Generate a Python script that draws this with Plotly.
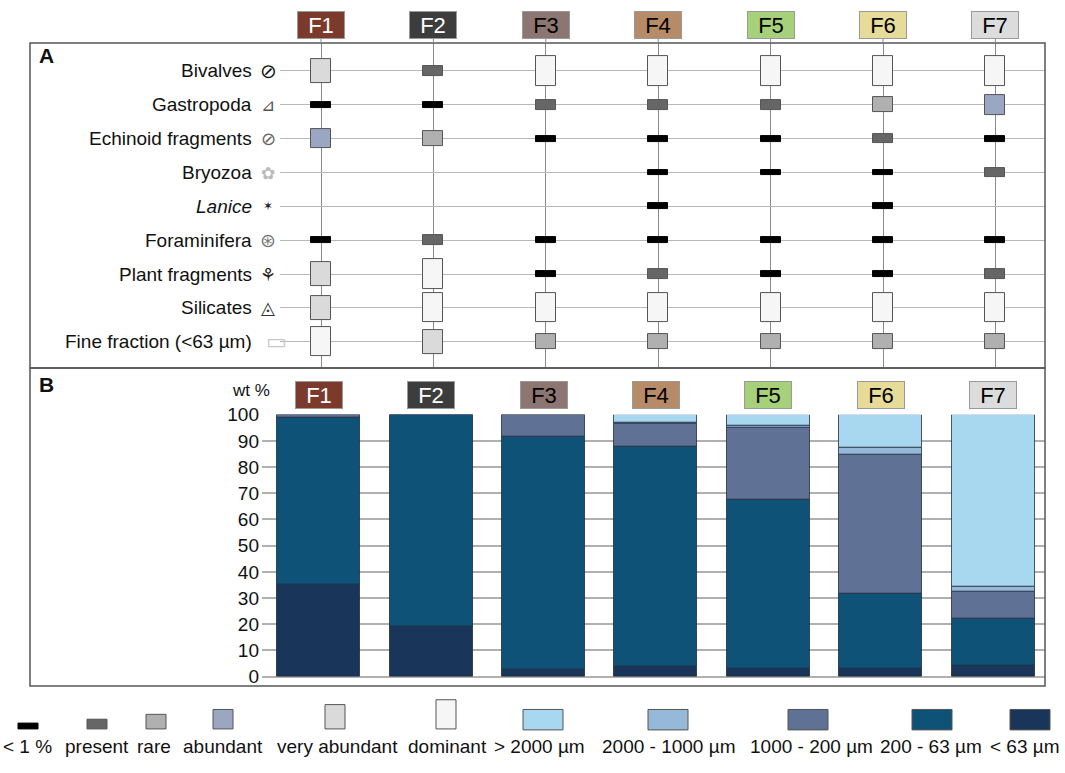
import numpy as np
import plotly.graph_objects as go

W, H = 1065, 773
FONT = "Liberation Sans, Arial, sans-serif"

# samples / facies
samples = ["F1", "F2", "F3", "F4", "F5", "F6", "F7"]
sample_colors = ["#7b3a2c", "#3d3d3d", "#8d7671", "#b78b67", "#a6d079", "#e7db99", "#dcdcdc"]
sample_text = ["white", "white", "black", "black", "black", "black", "black"]

# panel A: components and abundance class (0 = absent, 1..6 = classes below)
components = ["Bivalves", "Gastropoda", "Echinoid fragments", "Bryozoa", "<i>Lanice</i>",
              "Foraminifera", "Plant fragments", "Silicates", "Fine fraction (<63 µm)"]
component_icons = ["⊘", "⊿", "⊘", "✿", "✶", "⊛", "⚘", "◬", "▭"]
classes = ["< 1 %", "present", "rare", "abundant", "very abundant", "dominant"]
bivalves = [5, 2, 6, 6, 6, 6, 6]
gastropoda = [1, 1, 2, 2, 2, 3, 4]
echinoids = [4, 3, 1, 1, 1, 2, 1]
bryozoa = [0, 0, 0, 1, 1, 1, 2]
lanice = [0, 0, 0, 1, 0, 1, 0]
foraminifera = [1, 2, 1, 1, 1, 1, 1]
plants = [5, 6, 1, 2, 1, 1, 2]
silicates = [5, 6, 6, 6, 6, 6, 6]
fines = [6, 5, 3, 3, 3, 3, 3]
abundance = [bivalves, gastropoda, echinoids, bryozoa, lanice, foraminifera, plants, silicates, fines]

# panel B: grain size fractions (wt %), bottom to top
fractions = ["< 63 µm", "200 - 63 µm", "1000 - 200 µm", "2000 - 1000 µm", "> 2000 µm"]
lt63 = [35.0, 19.0, 2.7, 3.8, 3.0, 3.1, 4.2]
f200_63 = [64.0, 81.0, 88.8, 83.8, 64.6, 28.5, 17.8]
f1000_200 = [1.0, 0.0, 8.5, 9.1, 27.4, 53.1, 10.4]
f2000_1000 = [0.0, 0.0, 0.0, 0.3, 0.7, 2.7, 2.0]
gt2000 = [0.0, 0.0, 0.0, 3.0, 4.3, 12.6, 65.6]
wt = [lt63, f200_63, f1000_200, f2000_1000, gt2000]
wt_ticks = list(range(0, 101, 10))

# styles
class_colors = ["#000000", "#666666", "#b0b0b0", "#9ba6c3", "#dadada", "#f6f6f6"]
class_heights = [6, 10, 15, 20, 25, 30]  # px
fraction_colors = ["#19355a", "#0e5278", "#5f7295", "#97b9d9", "#a8d7f0"]
icon_colors = ["#111", "#555", "#666", "#bbb", "#222", "#777", "#222", "#333", "#c8c8c8"]
icon_sizes = [20, 17, 18, 17, 12, 19, 18, 18, 22]


def px(x):
    return x / W


def py(y):
    return 1 - y / H


# pixel geometry of the two panels
colA0, colB0, colstep = 321.0, 318.7, 112.4
rowA0, rowstep = 62.7, 34.8
A_x, A_y = (280, 1045), (34, 368)
B_x, B_y = (262, 1045), (416, 685.3)

xrA = [1 + (A_x[0] - colA0) / colstep, 1 + (A_x[1] - colA0) / colstep]
yrA = [1 + (A_y[1] - rowA0) / rowstep, 1 + (A_y[0] - rowA0) / rowstep]
xrB = [1 + (B_x[0] - colB0) / colstep, 1 + (B_x[1] - colB0) / colstep]

cols = np.arange(1, len(samples) + 1)
rows = np.arange(1, len(components) + 1)

fig = go.Figure()

# panel A symbols
ab = np.array(abundance)
for k in range(len(classes)):
    rr, cc = np.where(ab == k + 1)
    h = class_heights[k] / rowstep
    fig.add_trace(go.Bar(
        x=cols[cc], y=[h] * len(rr), base=rows[rr] - h / 2,
        width=20 / colstep, xaxis="x", yaxis="y",
        marker=dict(color=class_colors[k],
                    line=dict(color="#555555" if k > 0 else "#000000", width=1)),
        name=classes[k], showlegend=False,
    ))

# panel B stacked bars
bases = np.vstack([np.zeros(len(samples)), np.cumsum(wt, axis=0)[:-1]])
for i, name in enumerate(fractions):
    fig.add_trace(go.Bar(
        x=cols, y=wt[i], base=bases[i], width=83 / colstep,
        xaxis="x2", yaxis="y2",
        marker=dict(color=fraction_colors[i], line=dict(color="rgba(25,35,55,0.75)", width=1)),
        name=name, showlegend=False,
    ))

ann = []
shapes = []

# sample header boxes
for j, s in enumerate(samples):
    for xr, yc in (("x", 15.5), ("x2", 395.5)):
        ann.append(dict(x=j + 1, y=py(yc), xref=xr, yref="paper", text=s, showarrow=False,
                        font=dict(family=FONT, size=22, color=sample_text[j]),
                        bgcolor=sample_colors[j], bordercolor="#9a9a9a", borderwidth=1,
                        borderpad=0, width=46, height=26, xanchor="center", yanchor="middle"))

# component labels + little pictograms
for k, (r, c) in enumerate(zip(rows, components)):
    ann.append(dict(x=px(254), y=r, xref="paper", yref="y", text=c, showarrow=False,
                    xanchor="right", yanchor="middle", font=dict(family=FONT, size=19, color="#111")))
    ann.append(dict(x=px(276 if k == 8 else 268), y=r, xref="paper", yref="y",
                    text=component_icons[k], showarrow=False, xanchor="center", yanchor="middle",
                    font=dict(family="DejaVu Sans", size=icon_sizes[k], color=icon_colors[k])))

ann.append(dict(x=px(37), y=py(47), xref="paper", yref="paper", text="<b>A</b>", showarrow=False,
                xanchor="left", yanchor="middle", font=dict(family=FONT, size=21, color="#111")))
ann.append(dict(x=px(37), y=py(385), xref="paper", yref="paper", text="<b>B</b>", showarrow=False,
                xanchor="left", yanchor="middle", font=dict(family=FONT, size=21, color="#111")))
ann.append(dict(x=px(251), y=py(391), xref="paper", yref="paper", text="wt %", showarrow=False,
                xanchor="center", yanchor="middle", font=dict(family=FONT, size=17, color="#111")))

# panel frames
for (x0, y0, x1, y1) in ((30, 34, 1045, 368), (30, 368, 1045, 695)):
    shapes.append(dict(type="rect", xref="paper", yref="paper", x0=px(x0), x1=px(x1),
                       y0=py(y1), y1=py(y0), line=dict(color="#555555", width=1.5)))

# vertical link from header box to panel A
for j in range(len(samples)):
    shapes.append(dict(type="line", xref="x", yref="paper", x0=j + 1, x1=j + 1,
                       y0=py(34), y1=py(29), line=dict(color="#8a8a8a", width=1)))

# key
key_x = [28, 97, 156, 223, 335, 446]
for k in range(len(classes)):
    h = class_heights[k]
    shapes.append(dict(type="rect", xref="paper", yref="paper",
                       x0=px(key_x[k] - 10), x1=px(key_x[k] + 10), y0=py(739), y1=py(739 - h),
                       fillcolor=class_colors[k],
                       line=dict(color="#555555" if k > 0 else "#000000", width=1)))
key_xb = [543, 668, 808, 932, 1030]
for i, name in enumerate(fractions[::-1]):
    shapes.append(dict(type="rect", xref="paper", yref="paper",
                       x0=px(key_xb[i] - 20), x1=px(key_xb[i] + 20), y0=py(740), y1=py(719),
                       fillcolor=fraction_colors[::-1][i], line=dict(color="#555555", width=1)))
label_x = [27, 97, 154, 223, 337, 447, 539, 668, 812, 931, 1025]
for lx, t in zip(label_x, classes + fractions[::-1]):
    ann.append(dict(x=px(lx), y=py(757), xref="paper", yref="paper", text=t, showarrow=False,
                    xanchor="center", yanchor="middle", font=dict(family=FONT, size=19, color="#111")))

fig.update_layout(
    width=W, height=H, margin=dict(l=0, r=0, t=0, b=0),
    paper_bgcolor="white", plot_bgcolor="white",
    barmode="overlay", bargap=0,
    font=dict(family=FONT, size=19, color="#111"),
    xaxis=dict(domain=[px(A_x[0]), px(A_x[1])], range=xrA, tickvals=list(cols),
               showticklabels=False, ticks="", showgrid=True, gridcolor="#8a8a8a", gridwidth=1,
               zeroline=False, showline=False, fixedrange=True),
    yaxis=dict(domain=[py(A_y[1]), py(A_y[0])], range=yrA, tickvals=list(rows),
               showticklabels=False, ticks="", showgrid=True, gridcolor="#b8b8b8", gridwidth=1,
               zeroline=False, showline=False, fixedrange=True),
    xaxis2=dict(domain=[px(B_x[0]), px(B_x[1])], range=xrB, showticklabels=False, ticks="",
                showgrid=False, zeroline=False, showline=False, anchor="y2", fixedrange=True),
    yaxis2=dict(domain=[py(B_y[1]), py(B_y[0])], range=[0, 100], tickvals=wt_ticks,
                ticks="", ticklabelstandoff=2, tickfont=dict(family=FONT, size=19, color="#111"),
                showgrid=True, gridcolor="#b0b0b0", gridwidth=1.5,
                zeroline=True, zerolinecolor="#b0b0b0", zerolinewidth=1.5,
                showline=False, anchor="x2", fixedrange=True),
    annotations=ann, shapes=shapes,
)

# the page body margin would otherwise shift the figure by 8 px
fig.write_html("out.html", config={"displayModeBar": False},
               post_script="document.body.style.margin='0';document.body.style.overflow='hidden';")
